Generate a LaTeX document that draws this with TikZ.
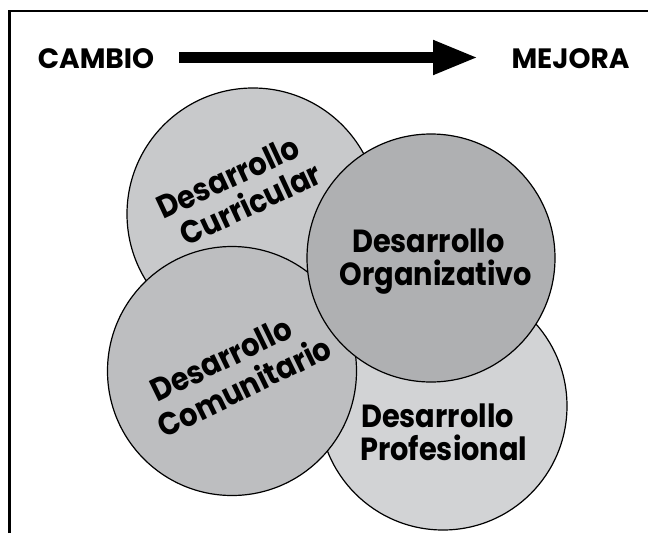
\documentclass[tikz,border=0pt]{standalone}
\usepackage{fontspec}
\setmainfont{Poppins}
\newfontfamily\lblfont{Poppins}[FakeStretch=0.9]
\usetikzlibrary{arrows.meta}
\definecolor{cCur}{RGB}{200,201,203}
\definecolor{cOrg}{RGB}{175,176,178}
\definecolor{cCom}{RGB}{189,190,192}
\definecolor{cPro}{RGB}{210,211,213}
\tikzset{
  circ/.style={draw=black, line width=1.2pt},
  lbl/.style={inner sep=0pt, font=\lblfont\fontsize{32}{32}\selectfont\bfseries},
  ttl/.style={inner sep=0pt, font=\fontsize{28}{28}\selectfont\bfseries},
  bigarrow/.style={line width=10.5pt, -{Triangle[length=45pt, width=32pt]}},
}
\begin{document}
\begin{tikzpicture}[x=1pt, y=-1pt]
\useasboundingbox (0,0) rectangle (648,533);
\fill[white] (0,0) rectangle (648,533);
% frame (only top and left edges visible)
\draw[line width=2.5pt] (9.5,533) -- (9.5,11) -- (648,11);
% title row
\node[ttl, anchor=base] (cambio) at (96,68) {CAMBIO};
\node[ttl, anchor=base] (mejora) at (570.5,68) {MEJORA};
\coordinate (a1) at (179,57.5);
\coordinate (a2) at (478,57.5);
\draw[bigarrow] (a1) -- (a2);
% circles
\fill[cCur] (253,214) circle[radius=126];
\draw[circ] (253,214) circle[radius=126];
\fill[cPro] (443,406) circle[radius=124];
\draw[circ] (443,406) circle[radius=124];
\fill[cCom] (232,371) circle[radius=124.5];
\draw[circ] (232,371) circle[radius=124.5];
\fill[cOrg] (431,258) circle[radius=124];
\draw[circ] (431,258) circle[radius=124];
% labels
\node[lbl, rotate=25] (cur1) at (228,177) {Desarrollo};
\node[lbl, rotate=25] (cur2) at (250,203) {Curricular};
\node[lbl, rotate=26] (com1) at (221,359) {Desarrollo};
\node[lbl, rotate=26] (com2) at (244,386) {Comunitario};
\node[lbl, anchor=base] (org1) at (428.5,252) {Desarrollo};
\node[lbl, anchor=base] (org2) at (436,285) {Organizativo};
\node[lbl, anchor=base west] (pro1) at (361,427) {Desarrollo};
\node[lbl, anchor=base west] (pro2) at (360,460) {Profesional};
\end{tikzpicture}
\end{document}
